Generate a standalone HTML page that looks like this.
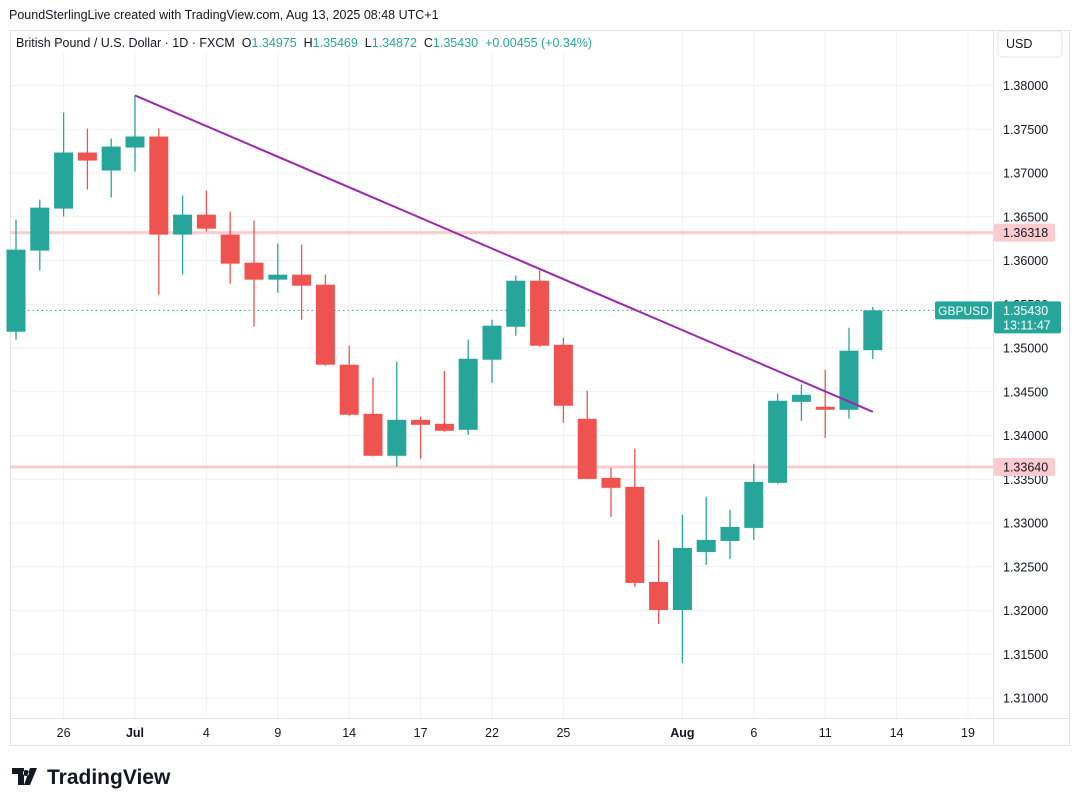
<!DOCTYPE html>
<html><head><meta charset="utf-8"><style>
body{margin:0;background:#fff;font-family:"Liberation Sans",sans-serif;}
#w{position:relative;width:1075px;height:806px;overflow:hidden;background:#fff;}
svg text{font-family:"Liberation Sans",sans-serif;}
</style></head><body>
<div id="w">
<svg id="c" width="1075" height="806"></svg>
</div>
<script>
const dates=["Jun24","Jun25","Jun26","Jun27","Jun30","Jul1","Jul2","Jul3","Jul4","Jul7","Jul8","Jul9","Jul10","Jul11","Jul14","Jul15","Jul16","Jul17","Jul18","Jul21","Jul22","Jul23","Jul24","Jul25","Jul28","Jul29","Jul30","Jul31","Aug1","Aug4","Aug5","Aug6","Aug7","Aug8","Aug11","Aug12","Aug13"];
const opens=[1.35186,1.36113,1.36593,1.37234,1.37028,1.37291,1.37417,1.36296,1.36524,1.36296,1.35975,1.35781,1.35838,1.35724,1.34809,1.34248,1.33768,1.34179,1.34134,1.34065,1.34866,1.35243,1.35769,1.35037,1.34191,1.33516,1.33413,1.32326,1.32006,1.32669,1.32795,1.32944,1.33459,1.34385,1.34328,1.34294,1.34975];
const highs=[1.36467,1.36696,1.37691,1.37508,1.37394,1.37886,1.37508,1.36742,1.36799,1.36559,1.36456,1.36193,1.36181,1.35838,1.35026,1.34660,1.34843,1.34214,1.34740,1.35095,1.35323,1.35827,1.35884,1.35117,1.34511,1.33630,1.33848,1.32807,1.33093,1.33299,1.33150,1.33676,1.34477,1.34580,1.34751,1.35232,1.35469];
const lows=[1.35095,1.35884,1.36502,1.36810,1.36719,1.37016,1.35609,1.35838,1.36330,1.35735,1.35243,1.35632,1.35323,1.34797,1.34225,1.33760,1.33642,1.33733,1.34042,1.34008,1.34603,1.35140,1.35014,1.34145,1.33500,1.33070,1.32269,1.31846,1.31400,1.32521,1.32589,1.32807,1.33447,1.34168,1.33973,1.34191,1.34872];
const closes=[1.36124,1.36604,1.37234,1.37142,1.37302,1.37417,1.36296,1.36524,1.36364,1.35964,1.35781,1.35838,1.35712,1.34809,1.34237,1.33768,1.34179,1.34122,1.34054,1.34877,1.35255,1.35769,1.35026,1.34340,1.33504,1.33402,1.32315,1.32006,1.32715,1.32807,1.32955,1.33470,1.34397,1.34465,1.34294,1.34969,1.35430];
const priceTicks=[1.38,1.375,1.37,1.365,1.36,1.355,1.35,1.345,1.34,1.335,1.33,1.325,1.32,1.315,1.31];
const timeLabels=["26","Jul","4","9","14","17","22","25","Aug","6","11","14","19"];
const timeLabelIdx=[2,5,8,11,14,17,20,23,28,31,34,37,40];
const hLevels=[1.36318,1.33640];
const trendStart=[5,1.37886];
const trendEnd=[36,1.34271];
const lastPrice=1.35430;

const S=document.getElementById('c');const NS='http://www.w3.org/2000/svg';
function el(t,a,p){const e=document.createElementNS(NS,t);for(const k in a)e.setAttribute(k,a[k]);(p||S).appendChild(e);return e;}
const Y=p=>85.5+(1.38-p)/0.005*43.75;
const X=i=>16+i*23.8;
const L=10,R=993,T=30,B=718;
let g=el('g',{});
priceTicks.forEach(p=>{el('line',{x1:L,x2:R,y1:Y(p),y2:Y(p),stroke:'#f0f1f3','stroke-width':1},g);});
timeLabelIdx.forEach(i=>{el('line',{x1:X(i),x2:X(i),y1:T,y2:B,stroke:'#f0f1f3','stroke-width':1},g);});
el('line',{x1:L,x2:1070,y1:30.5,y2:30.5,stroke:'#e0e3eb'});
el('line',{x1:L+.5,x2:L+.5,y1:30,y2:745,stroke:'#e0e3eb'});
el('line',{x1:R+.5,x2:R+.5,y1:30,y2:745,stroke:'#e0e3eb'});
el('line',{x1:L,x2:1070,y1:B+.5,y2:B+.5,stroke:'#e0e3eb'});
el('line',{x1:L,x2:1070,y1:745.5,y2:745.5,stroke:'#e0e3eb'});
el('line',{x1:1069.5,x2:1069.5,y1:30,y2:745,stroke:'#e0e3eb'});
priceTicks.forEach(p=>{const t=el('text',{x:1003,y:Y(p)+4.5,'font-size':12.5,fill:'#131722'});t.textContent=p.toFixed(5);
});
timeLabels.forEach((s,k)=>{const t=el('text',{x:X(timeLabelIdx[k]),y:737,'font-size':12.5,fill:'#131722','text-anchor':'middle','font-weight':(s=='Jul'||s=='Aug')?'bold':'normal'});t.textContent=s;
});
hLevels.forEach(p=>{const l=el('rect',{x:L,y:Y(p)-1.5,width:R-L,height:3,fill:'#fccbcd'});

el('rect',{x:994,y:Y(p)-9,width:61,height:18,fill:'#fccbcd',rx:2});
const t=el('text',{x:1003,y:Y(p)+4.5,'font-size':12.5,fill:'#131722'});t.textContent=p.toFixed(5);
});
const dl=el('line',{x1:L,x2:R,y1:Y(lastPrice),y2:Y(lastPrice),stroke:'#26a69a','stroke-dasharray':'1.5 3','stroke-width':1});

dates.forEach((d,i)=>{const up=closes[i]>=opens[i];const c=up?'#26a69a':'#ef5350';const x=X(i);
const cg=el('g',{});
el('line',{x1:x,x2:x,y1:Y(highs[i]),y2:Y(lows[i]),stroke:c,'stroke-width':1.3},cg);
const top=Y(Math.max(opens[i],closes[i])),bot=Y(Math.min(opens[i],closes[i]));
el('rect',{x:x-9.5,y:top,width:19,height:Math.max(1.5,bot-top),fill:c},cg);});
const tl=el('line',{x1:X(trendStart[0]),y1:Y(trendStart[1]),x2:X(trendEnd[0]),y2:Y(trendEnd[1]),stroke:'#9c27b0','stroke-width':2});

const yl=Y(lastPrice);
el('rect',{x:935,y:yl-9,width:57,height:18,fill:'#26a69a',rx:2});
let t=el('text',{x:963.5,y:yl+4.5,'font-size':12,fill:'#fff','text-anchor':'middle'});t.textContent='GBPUSD';

el('rect',{x:994,y:yl-9,width:67,height:32,fill:'#26a69a',rx:2});
t=el('text',{x:1003,y:yl+4.5,'font-size':12.5,fill:'#fff'});t.textContent='1.35430';

t=el('text',{x:1003,y:yl+19,'font-size':12.5,fill:'#fff'});t.textContent='13:11:47';

el('rect',{x:L+1,y:33,width:600,height:20,fill:'#fff'});
t=el('text',{x:9,y:19,'font-size':12.5,fill:'#131722'});t.textContent='PoundSterlingLive created with TradingView.com, Aug 13, 2025 08:48 UTC+1';

t=el('text',{x:16,y:47,'font-size':12.5,fill:'#131722'});
t.innerHTML='British Pound / U.S. Dollar · 1D · FXCM  O<tspan fill="#26a69a">1.34975</tspan>  H<tspan fill="#26a69a">1.35469</tspan>  L<tspan fill="#26a69a">1.34872</tspan>  C<tspan fill="#26a69a">1.35430</tspan>  <tspan fill="#26a69a">+0.00455 (+0.34%)</tspan>';
t.setAttribute('xml:space','preserve');t.style.whiteSpace='pre';

el('rect',{x:998,y:31,width:64,height:26,fill:'#fff',stroke:'#e0e3eb',rx:4});
t=el('text',{x:1006,y:48,'font-size':12.5,fill:'#131722'});t.textContent='USD';

el('path',{d:'M12 768h12v17h-6v-11h-6z M26 770a3 3 0 1 0 0.01 0z M30 768h7l-7 17h-6z',fill:'#131722'});
t=el('text',{x:47,y:784,'font-size':21,'font-weight':'bold',fill:'#131722'});t.textContent='TradingView';

</script>
</body></html>
